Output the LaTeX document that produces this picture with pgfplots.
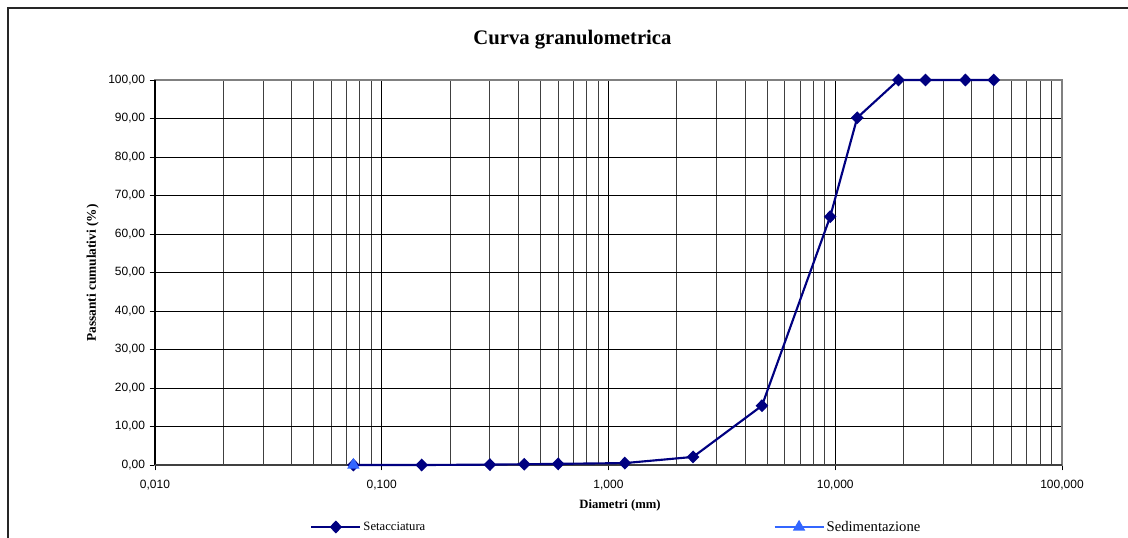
\documentclass[border=0pt]{standalone}
\usepackage{fontspec}
\setmainfont{Liberation Serif}
\setsansfont{Liberation Sans}
\usepackage{pgfplots}
\pgfplotsset{compat=1.18}
\definecolor{navyc}{HTML}{000080}
\definecolor{ltblue}{HTML}{3366FF}
\begin{document}
\begin{tikzpicture}
\useasboundingbox (0,0) rectangle (846pt,-402.75pt);
\draw[black!85, line width=1.4pt] (6pt,-420pt) -- (6pt,-6pt) -- (860pt,-6pt);
\begin{axis}[
  at={(116.25pt,-348.75pt)}, anchor=south west,
  scale only axis, width=680.25pt, height=288.75pt,
  xmode=log, log basis x=10,
  xmin=0.01, xmax=100, ymin=0, ymax=100,
  xtick={0.01,0.1,1,10,100},
  xticklabels={{0,010},{0,100},{1,000},{10,000},{100,000}},
  minor xtick={0.02,0.03,0.04,0.05,0.06,0.07,0.08,0.09,0.2,0.3,0.4,0.5,0.6,0.7,0.8,0.9,2,3,4,5,6,7,8,9,20,30,40,50,60,70,80,90},
  ytick={0,10,20,30,40,50,60,70,80,90,100},
  yticklabels={{0,00},{10,00},{20,00},{30,00},{40,00},{50,00},{60,00},{70,00},{80,00},{90,00},{100,00}},
  xmajorgrids, xminorgrids, ymajorgrids,
  major grid style={black, line width=0.6pt},
  minor grid style={black!75, line width=0.7pt},
  axis line style={draw=black!50, line width=1.5pt},
  tick align=outside, xtick pos=bottom, ytick pos=left,
  major tick length=4pt, minor tick length=0pt,
  tick style={black, line width=0.6pt},
  ticklabel style={font=\sffamily\fontsize{9}{10}\selectfont},
  xticklabel style={yshift=-3.5pt},
  title={Curva granulometrica},
  title style={font=\bfseries\fontsize{15.5}{17}\selectfont, at={(axis description cs:0.4603,1.083)}, anchor=center},
  xlabel={Diametri (mm)},
  xlabel style={font=\bfseries\fontsize{9.5}{11}\selectfont, at={(axis description cs:0.5127,-0.1045)}, anchor=center},
  ylabel={Passanti cumulativi (\%)},
  ylabel style={font=\bfseries\fontsize{10}{12}\selectfont, at={(axis description cs:-0.0687,0.4987)}, anchor=center},
  clip=false,
  legend columns=2,
  legend cell align=left,
  legend style={at={(axis description cs:0.1709,-0.161)}, anchor=west, draw=none, fill=none, inner sep=0pt,
    nodes={inner sep=1.5pt},
    /tikz/every even column/.append style={column sep=258pt}},
  legend image code/.code={\draw[mark repeat=2,mark phase=2,#1] plot coordinates {(0pt,0pt) (18.4pt,0pt) (36.8pt,0pt)};},
]
\draw[black, line width=1.5pt] (rel axis cs:0,0) -- (rel axis cs:0,1);
\draw[black!75, line width=1.5pt] (rel axis cs:0,0) -- (rel axis cs:1,0);
\addplot[navyc, line width=1.6pt, mark=diamond*, mark size=3.7pt, mark options={solid, xscale=1.3}]
  coordinates {(0.075,0) (0.15,0) (0.3,0.1) (0.425,0.2) (0.6,0.3) (1.18,0.5) (2.36,2.1) (4.75,15.4) (9.5,64.5) (12.5,90.2) (19,100) (25,100) (37.5,100) (50,100)};
\addlegendentry{\makebox[48pt][l]{\fontsize{9.5}{11}\selectfont Setacciatura}}
\addplot[ltblue, line width=1.6pt, mark=triangle*, mark size=3.8pt, mark options={solid}]
  coordinates {(0.075,0)};
\addlegendentry{\fontsize{11}{13}\selectfont Sedimentazione}
\end{axis}
\end{tikzpicture}
\end{document}
